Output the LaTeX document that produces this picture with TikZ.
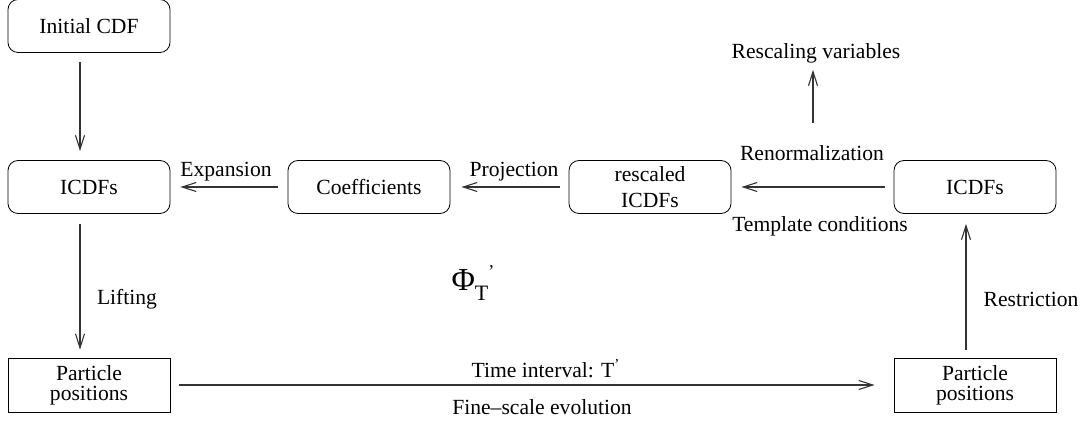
\documentclass[tikz,border=0pt]{standalone}
\usepackage{fontspec}
\setmainfont{Liberation Serif}
\usetikzlibrary{arrows.meta}

\begin{document}
\begin{tikzpicture}[x=0.5pt,y=-0.5pt,
	font=\fontsize{10.8}{13}\selectfont,
	rbox/.style={draw,rounded corners=5pt,minimum width=81pt,minimum height=26.5pt,align=center,inner sep=0pt},
	sbox/.style={draw,minimum width=81pt,minimum height=27pt,align=center,inner sep=0pt,font=\fontsize{10.8}{10}\selectfont},
	flow/.style={draw=black!80,line width=0.55pt,-{Straight Barb[length=7pt,width=4.5pt]}}]
		\useasboundingbox (0,0) rectangle (1086,432);
		\node[rbox] (init) at (89,26) {Initial CDF};
		\node[rbox] (icdfL) at (89,187) {ICDFs};
		\node[rbox] (coef) at (369,187) {Coefficients};
		\node[rbox] (resc) at (650,187) {rescaled\\ICDFs};
		\node[rbox] (icdfR) at (975,187) {ICDFs};
		\node[sbox] (partL) at (89,385) {Particle\\positions};
		\node[sbox] (partR) at (975,385) {Particle\\positions};
		\coordinate (rsc) at (813,123);
		\node (rscvar) at (816,53) {Rescaling variables};
		\draw[flow,shorten <=4.5pt,shorten >=4.5pt] ([xshift=-4.5pt]init.south) -- ([xshift=-4.5pt]icdfL.north);
		\draw[flow,shorten <=5pt,shorten >=4pt] ([xshift=-4.5pt]icdfL.south) -- ([xshift=-4.5pt]partL.north);
		\draw[flow,shorten <=5pt,shorten >=5pt] (coef.west) -- (icdfL.east);
		\draw[flow,shorten <=4.5pt,shorten >=5.5pt] (resc.west) -- (coef.east);
		\draw[flow,shorten <=4.5pt,shorten >=5pt] (icdfR.west) -- (resc.east);
		\draw[flow] (rsc) -- (rsc |- rscvar.south);
		\draw[flow,shorten <=4pt,shorten >=5pt] ([xshift=-4.5pt]partR.north) -- ([xshift=-4.5pt]icdfR.south);
		\draw[flow,shorten <=4.5pt,shorten >=9.5pt] (partL.east) -- (partR.west);
		\node (expn) at (226,172) {Expansion};
		\node (proj) at (514,172) {Projection};
		\node (renorm) at (812,153) {Renormalization};
		\node (templ) at (820,226) {Template conditions};
		\node (lift) at (127,299) {Lifting};
		\node (restr) at (1031,299) {Restriction};
		\node (tint) at (546,369) {Time interval: T\textsuperscript{’}};
		\node (fine) at (542,407) {Fine–scale evolution};
		\node (phi) at (473,283) {\fontsize{16}{18}\selectfont Φ\raisebox{-0.7ex}{\fontsize{11}{12}\selectfont T}\raisebox{0.9ex}{\fontsize{9}{10}\selectfont ’}};
	\end{tikzpicture}
\end{document}
